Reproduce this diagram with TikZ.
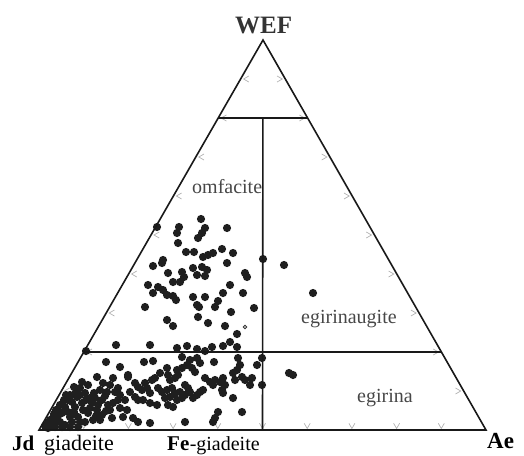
\documentclass[tikz,border=0pt]{standalone}
\usepackage{fontspec}
\setmainfont{Liberation Serif}
\usetikzlibrary{calc}
\tikzset{
  edge/.style={line width=1.6pt, black!90},
  tickmark/.style={line width=0.7pt, black!30},
  dotfill/.style={fill=black!88},
  lbl/.style={anchor=base west, inner sep=0pt, text=black!72, font=\fontsize{20}{20}\selectfont},
  vlbl/.style={anchor=base west, inner sep=0pt, text=black, font=\fontsize{21}{21}\selectfont\bfseries},
}
\begin{document}
\begin{tikzpicture}[x=1pt,y=-1pt]
\useasboundingbox (0,0) rectangle (524,455);
\coordinate (A) at (263,40);
\coordinate (J) at (39,430);
\coordinate (E) at (486,430);
\coordinate (u1) at ($(A)!0.2!(J)$);
\coordinate (u2) at ($(A)!0.2!(E)$);
\coordinate (um) at ($(u1)!0.5!(u2)$);
\coordinate (l1) at ($(A)!0.8!(J)$);
\coordinate (l2) at ($(A)!0.8!(E)$);
\coordinate (bm) at ($(J)!0.5!(E)$);
% ticks
\foreach \k [evaluate=\k as \f using \k/10] in {1,...,9}{
  \coordinate (tb) at ($(J)!\f!(E)+(0,-1.5)$);
  \draw[tickmark] ($(tb)+(-3,-5.2)$) -- (tb) -- ($(tb)+(3,-5.2)$);
  \coordinate (tl) at ($(J)!\f!(A)+(3,0)$);
  \draw[tickmark] ($(tl)+(5.2,-3)$) -- (tl) -- ($(tl)+(5.2,3)$);
  \coordinate (tr) at ($(E)!\f!(A)+(-3,0)$);
  \draw[tickmark] ($(tr)+(-5.2,-3)$) -- (tr) -- ($(tr)+(-5.2,3)$);
}
% dots
\foreach \x/\y in {
201/219, 157/227, 179/227, 177/233, 205/228, 202/233, 198/238, 227/228, 178/243, 186/252,
194/252, 203/257, 208/255, 213/253, 222/249, 233/253, 263/259, 227/263, 163/260, 162/263,
153/266, 168/273, 182/272, 184/277, 180/282, 193/268, 197/275, 202/267, 207/270, 205/276,
245/273, 247/277, 148/285, 173/282, 158/287, 163/290, 167/295, 230/285, 223/293, 243/293,
193/297, 205/297, 176/300, 173/296, 153/293, 197/305, 199/307, 218/301, 215/307, 145/307,
254/308, 231/312, 167/320, 173/326, 198/317, 208/323, 225/326, 237/334,
150/345, 177/348, 187/346, 197/349, 205/351, 212/347, 223/346, 230/342, 237/347, 116/345, 86/351,
284/265, 313/293, 289/373, 293/375,
144/362, 153/361, 182/357, 190/360, 197/358, 200/363, 214/362, 238/358, 240/365, 262/358, 257/365,
167/368, 160/373, 155/378, 152/380, 177/370, 182/368, 187/365, 192/368, 195/372, 168/375, 170/380, 175/378, 178/375,
205/378, 210/382, 215/380, 220/382, 223/378, 225/385, 233/373, 235/380, 237/370, 242/377, 245/380, 250/385, 252/378, 262/385,
138/387, 142/390, 147/388, 150/393, 158/388, 162/392, 167/390, 172/388, 175/393, 180/392, 185/385, 188/388, 190/392,
165/398, 170/397, 177/400, 182/398, 185/395, 193/398, 197/395, 200/392, 203/390, 213/385, 222/390, 223/393,
138/400, 150/403, 157/405, 168/405, 173/407, 233/398, 242/412, 218/412, 215/418, 213/422, 185/422, 138/422, 150/423,
145/383, 143/400,
106/362, 120/367, 128/375, 97/377, 82/382, 88/385, 103/383, 113/378, 128/377, 135/383,
130/392, 120/395, 107/392, 94/393, 85/393, 77/397, 68/400, 65/407, 62/413, 57/420,
52/425, 48/428, 68/412, 75/407, 82/403, 92/403, 102/400, 108/405, 113/403, 88/413,
97/410, 102/415, 78/417, 72/422, 65/425, 85/422, 93/420, 112/418, 123/417, 133/418,
78/427, 125/400, 135/397, 118/400, 55/427, 60/422, 58/416, 54/414, 62/427, 70/427,
72/402, 76/392, 80/388, 90/398, 98/405, 110/410, 120/408, 127/410, 110/385, 118/388,
100/390, 70/417, 90/408, 83/410, 66/395,
45/426, 50/420, 56/410, 60/405, 64/400, 70/395, 74/387, 80/395, 86/400, 95/398,
105/396, 115/392, 100/420, 60/412, 74/412, 80/422, 96/416, 106/411, 48/423, 53/418}
  \fill[dotfill] (\x,\y) circle (4.1);
\draw[line width=0.8pt, black!80, fill=white] (245,327) circle (1.8);
% frame
\draw[edge] (J) -- (A) -- (E) -- cycle;
\draw[edge] (u1) -- (u2);
\draw[edge] (l1) -- (l2);
\draw[edge] (um) -- (bm);
% labels
\node[lbl] (omf) at (192,193) {omfacite};
\node[lbl] (egau) at (301,323) {egirinaugite};
\node[lbl] (egi) at (357,402) {egirina};
\node[vlbl, font=\fontsize{25}{25}\selectfont\bfseries, text=black!80] (wef) at (235,33) {WEF};
\node[vlbl] (jd) at (12,450) {Jd};
\node[anchor=base west, inner sep=0pt, font=\fontsize{22}{22}\selectfont] (jdn) at (44,450) {giadeite};
\node[vlbl] (fe) at (167,450) {Fe};
\node[anchor=base west, inner sep=0pt, font=\fontsize{20}{20}\selectfont] (fen) at (fe.base east) {-giadeite};
\node[vlbl, font=\fontsize{23}{23}\selectfont\bfseries] (ae) at (487,448) {Ae};
\end{tikzpicture}
\end{document}
